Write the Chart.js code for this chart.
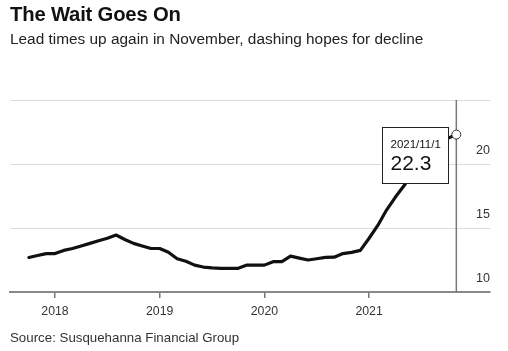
<!DOCTYPE html>
<html>
<head>
<meta charset="utf-8">
<script src="https://cdn.jsdelivr.net/npm/chart.js@4/dist/chart.umd.min.js"></script>
<style>
  body { margin: 0; background: #fff; font-family: "Liberation Sans", Arial, sans-serif; }
  #wrap { position: relative; width: 508px; height: 351px; overflow: hidden; }
  #title { position: absolute; left: 10px; top: 3px; font-size: 20.3px; font-weight: bold; color: #111; letter-spacing: -0.2px; }
  #subtitle { position: absolute; left: 10px; top: 30px; font-size: 15.4px; color: #222; }
  #source { position: absolute; left: 10px; top: 330px; font-size: 13.3px; color: #333; }
  #box { position: absolute; left: 0; top: 0; width: 508px; height: 351px; }
</style>
</head>
<body>
<div id="wrap">
  <div id="box"><canvas id="myChart"></canvas></div>
  <div id="title">The Wait Goes On</div>
  <div id="subtitle">Lead times up again in November, dashing hopes for decline</div>
  <div id="source">Source: Susquehanna Financial Group</div>
</div>
<script>
// monthly lead times (weeks)
const months = [
  '2017-10', '2017-11', '2017-12',
  '2018-01', '2018-02', '2018-03', '2018-04', '2018-05', '2018-06',
  '2018-07', '2018-08', '2018-09', '2018-10', '2018-11', '2018-12',
  '2019-01', '2019-02', '2019-03', '2019-04', '2019-05', '2019-06',
  '2019-07', '2019-08', '2019-09', '2019-10', '2019-11', '2019-12',
  '2020-01', '2020-02', '2020-03', '2020-04', '2020-05', '2020-06',
  '2020-07', '2020-08', '2020-09', '2020-10', '2020-11', '2020-12',
  '2021-01', '2021-02', '2021-03', '2021-04', '2021-05', '2021-06',
  '2021-07', '2021-08', '2021-09', '2021-10', '2021-11'
];
const leadTimes = [
  12.7, 12.85, 13.0,
  13.0, 13.25, 13.4, 13.6, 13.8, 14.0,
  14.2, 14.45, 14.1, 13.8, 13.6, 13.4,
  13.4, 13.1, 12.6, 12.4, 12.1, 11.95,
  11.88, 11.85, 11.85, 11.85, 12.1, 12.1,
  12.1, 12.37, 12.37, 12.8, 12.65, 12.5,
  12.6, 12.7, 12.72, 13.0, 13.1, 13.25,
  14.2, 15.2, 16.4, 17.4, 18.3, 19.3,
  20.2, 20.7, 21.7, 22.0, 22.3
];
const yearTicks = [2018, 2019, 2020, 2021];
const valueTicks = [10, 15, 20];

const toYear = (s) => {
    const [y, m] = s.split('-').map(Number);
    return y + (m - 1) / 12;
};
const points = months.map((m, i) => ({x: toYear(m), y: leadTimes[i]}));
const last = points.length - 1;

const crosshair = {
    id: 'crosshair',
    beforeDatasetsDraw(chart) {
        const {ctx, chartArea, scales} = chart;
        const x = scales.x.getPixelForValue(points[last].x);
        ctx.save();
        ctx.strokeStyle = '#777';
        ctx.lineWidth = 1.5;
        ctx.beginPath();
        ctx.moveTo(x, chartArea.top);
        ctx.lineTo(x, chartArea.bottom);
        ctx.stroke();
        ctx.restore();
    },
    afterDatasetsDraw(chart) {
        const {ctx, scales} = chart;
        const px = scales.x.getPixelForValue(points[last].x);
        const py = scales.y.getPixelForValue(points[last].y);
        const bx = Math.round(px - 74) + 0.5;
        const by = Math.round(py - 8) + 0.5;
        ctx.save();
        ctx.fillStyle = '#fff';
        ctx.strokeStyle = '#222';
        ctx.lineWidth = 1;
        ctx.fillRect(bx, by, 66, 56);
        ctx.strokeRect(bx, by, 66, 56);
        const [y, m] = months[last].split('-').map(Number);
        ctx.fillStyle = '#111';
        ctx.textBaseline = 'middle';
        ctx.textAlign = 'left';
        ctx.font = '11.5px "Liberation Sans", Arial, sans-serif';
        ctx.fillText(y + '/' + m + '/1', bx + 8, by + 17);
        ctx.font = '21px "Liberation Sans", Arial, sans-serif';
        ctx.fillText(leadTimes[last].toFixed(1), bx + 8, by + 37);
        ctx.restore();
    }
};

const myChart = new Chart(document.getElementById('myChart'), {
    type: 'line',
    data: {
        datasets: [{
            data: points,
            borderColor: '#111',
            borderWidth: 3.2,
            borderJoinStyle: 'round',
            borderCapStyle: 'round',
            tension: 0,
            fill: false,
            pointRadius: (c) => c.dataIndex === last ? 4.5 : 0,
            pointBackgroundColor: '#fff',
            pointBorderColor: '#333',
            pointBorderWidth: 1
        }]
    },
    options: {
        responsive: true,
        maintainAspectRatio: false,
        animation: false,
        layout: {
            padding: {top: 100, left: 10, right: 18, bottom: 29}
        },
        plugins: {
            legend: {display: false},
            tooltip: {enabled: false}
        },
        scales: {
            x: {
                type: 'linear',
                min: 2017.57,
                max: 2022.155,
                afterFit: (scale) => { scale.height = 30; },
                afterBuildTicks: (scale) => {
                    scale.ticks = yearTicks.map(v => ({value: v}));
                },
                grid: {
                    drawOnChartArea: false,
                    drawTicks: true,
                    tickLength: 6,
                    color: '#777',
                    lineWidth: 1.5
                },
                border: {
                    display: true,
                    color: '#888',
                    width: 2
                },
                ticks: {
                    color: '#333',
                    padding: 6,
                    font: {size: 12.3, family: '"Liberation Sans", Arial, sans-serif'},
                    callback: (v) => String(v)
                }
            },
            y: {
                position: 'right',
                min: 10,
                max: 25,
                afterFit: (scale) => { scale.width = 0; },
                afterBuildTicks: (scale) => {
                    scale.ticks = [10, 15, 20, 25].map(v => ({value: v}));
                },
                grid: {
                    color: '#dcdcdc',
                    lineWidth: 1,
                    drawTicks: false
                },
                border: {display: false},
                ticks: {
                    mirror: true,
                    padding: 0,
                    labelOffset: -13,
                    color: '#333',
                    font: {size: 12.5, family: '"Liberation Sans", Arial, sans-serif'},
                    callback: (v) => valueTicks.includes(v) ? String(v) : ''
                }
            }
        }
    },
    plugins: [crosshair]
});
</script>
</body>
</html>
